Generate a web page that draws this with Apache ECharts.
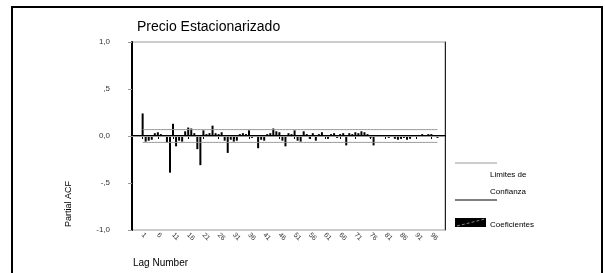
<!DOCTYPE html>
<html>
<head>
<meta charset="utf-8">
<script src="https://cdn.jsdelivr.net/npm/echarts@6/dist/echarts.min.js"></script>
<style>
  html, body { margin: 0; padding: 0; background: #fff; }
  #canvas { width: 605px; height: 273px; }
</style>
</head>
<body>
<div id="canvas"></div>
<script>
// lags shown on the x axis, 1..98
var lags = [];
for (var i = 1; i <= 98; i++) { lags.push(i); }

// partial autocorrelation coefficients
var coeficientes = [
  0.24, -0.06, -0.05, -0.04, 0.03, 0.04, 0.02, -0.01, -0.07, -0.39,
  0.13, -0.11, -0.05, -0.06, 0.05, 0.09, 0.08, 0.03, -0.14, -0.31,
  0.06, 0.02, 0.03, 0.11, 0.03, 0.02, 0.04, -0.05, -0.18, -0.04,
  -0.06, -0.05, 0.02, 0.03, 0.02, 0.06, -0.02, 0.01, -0.13, -0.04,
  -0.05, 0.02, 0.03, 0.08, 0.05, 0.04, -0.05, -0.11, 0.03, 0.02,
  0.06, -0.05, -0.06, 0.05, 0.02, -0.03, 0.03, -0.05, 0.02, 0.04,
  0.01, -0.03, 0.02, 0.03, -0.02, 0.02, 0.03, -0.10, 0.03, 0.02,
  0.04, 0.03, 0.05, 0.04, 0.02, -0.02, -0.10, 0.01, 0.01, 0.01,
  0.01, -0.02, -0.01, -0.03, -0.04, -0.03, -0.02, -0.04, -0.03, 0.01,
  -0.01, 0.01, 0.02, 0.01, 0.02, 0.02, 0.01, -0.02
];

// confidence limits (upper / lower)
var limiteSuperior = 0.068;
var limiteInferior = -0.068;

// y tick labels as printed (decimal comma)
var yTickValues = [-1, -0.5, 0, 0.5, 1];
var yTickLabels = ['-1,0', '-,5', '0,0', ',5', '1,0'];

// empty slots before / after the lags, the plot leaves some room there
var padLeft = 3;
var padRight = 2;

var categories = [];
var barData = [];
var upperData = [];
var lowerData = [];
for (var p = 0; p < padLeft; p++) {
  categories.push('pad' + p); barData.push(null); upperData.push(null); lowerData.push(null);
}
for (var k = 0; k < lags.length; k++) {
  categories.push(String(lags[k]));
  barData.push(coeficientes[k]);
  upperData.push(limiteSuperior);
  lowerData.push(limiteInferior);
}
for (var q = 0; q < padRight; q++) {
  categories.push('padr' + q); barData.push(null); upperData.push(null); lowerData.push(null);
}

// only every fifth lag gets a label and a tick: 1, 6, 11, ...
function showLag(index, value) {
  var n = Number(value);
  return !isNaN(n) && (n - 1) % 5 === 0;
}

var font = 'Arial, "Liberation Sans", sans-serif';
var chart = echarts.init(document.getElementById('canvas'), null, { renderer: 'canvas' });

var option = {
  animation: false,
  backgroundColor: '#fff',
  title: {
    text: 'Precio Estacionarizado',
    left: 132,
    top: 15,
    textStyle: { fontFamily: font, fontSize: 14, fontWeight: 'normal', color: '#000' }
  },
  grid: {
    left: 132, right: 160, top: 42, bottom: 43,
    show: true, borderColor: '#999', borderWidth: 1, backgroundColor: '#fff'
  },
  xAxis: {
    type: 'category',
    data: categories,
    boundaryGap: true,
    axisLine: { lineStyle: { color: '#000', width: 2 } },
    axisTick: { show: true, interval: showLag, alignWithLabel: true, length: 3, lineStyle: { color: '#000' } },
    axisLabel: {
      interval: showLag, rotate: -45, margin: 4,
      fontFamily: font, fontSize: 7, color: '#333'
    },
    splitLine: { show: false }
  },
  yAxis: [{
    type: 'value',
    min: -1, max: 1, interval: 0.5,
    axisLine: { show: true, lineStyle: { color: '#000', width: 2 } },
    axisTick: { show: true, length: 4, lineStyle: { color: '#999' } },
    axisLabel: {
      margin: 22, fontFamily: font, fontSize: 8, color: '#333',
      formatter: function (v) {
        var idx = yTickValues.indexOf(v);
        return idx >= 0 ? yTickLabels[idx] : '';
      }
    },
    splitLine: { show: false }
  }, {
    // right edge of the plot frame
    type: 'value', position: 'right',
    min: -1, max: 1, interval: 0.5,
    axisLine: { show: true, lineStyle: { color: '#222', width: 1 } },
    axisTick: { show: false }, axisLabel: { show: false }, splitLine: { show: false }
  }],
  series: [
    {
      name: 'Coeficientes',
      type: 'bar',
      data: barData,
      barWidth: 2,
      itemStyle: { color: '#000' },
      markLine: {
        silent: true, symbol: 'none', label: { show: false },
        lineStyle: { color: '#999', type: 'solid', width: 1 },
        data: [{ yAxis: 0 }]
      }
    },
    {
      name: 'Limites de Confianza',
      type: 'line', data: upperData, symbol: 'none',
      lineStyle: { color: '#999', width: 1 }
    },
    {
      name: 'Limites de Confianza (inf)',
      type: 'line', data: lowerData, symbol: 'none',
      lineStyle: { color: '#999', width: 1 }
    }
  ],
  graphic: [
    // outer frame
    { type: 'rect', shape: { x: 12, y: 7, width: 590, height: 290 },
      style: { fill: 'none', stroke: '#000', lineWidth: 2 }, z: 100 },
    // axis titles
    { type: 'text', x: 133, y: 258,
      style: { text: 'Lag Number', font: '10px ' + font, fill: '#000' } },
    { type: 'text', x: 64, y: 227, rotation: Math.PI / 2,
      style: { text: 'Partial ACF', font: '9px ' + font, fill: '#000' } },
    // legend
    { type: 'line', shape: { x1: 455, y1: 163, x2: 497, y2: 163 }, style: { stroke: '#999', lineWidth: 1 } },
    { type: 'text', x: 490, y: 171, style: { text: 'Limites de', font: '8px ' + font, fill: '#000' } },
    { type: 'text', x: 490, y: 188, style: { text: 'Confianza', font: '8px ' + font, fill: '#000' } },
    { type: 'line', shape: { x1: 455, y1: 200, x2: 497, y2: 200 }, style: { stroke: '#000', lineWidth: 1 } },
    { type: 'rect', shape: { x: 455, y: 218, width: 31, height: 9 }, style: { fill: '#000' } },
    { type: 'line', shape: { x1: 457, y1: 226, x2: 485, y2: 219 },
      style: { stroke: '#888', lineWidth: 1, lineDash: [3, 2] } },
    { type: 'text', x: 490, y: 221, style: { text: 'Coeficientes', font: '8px ' + font, fill: '#000' } }
  ]
};

chart.setOption(option);
</script>
</body>
</html>
